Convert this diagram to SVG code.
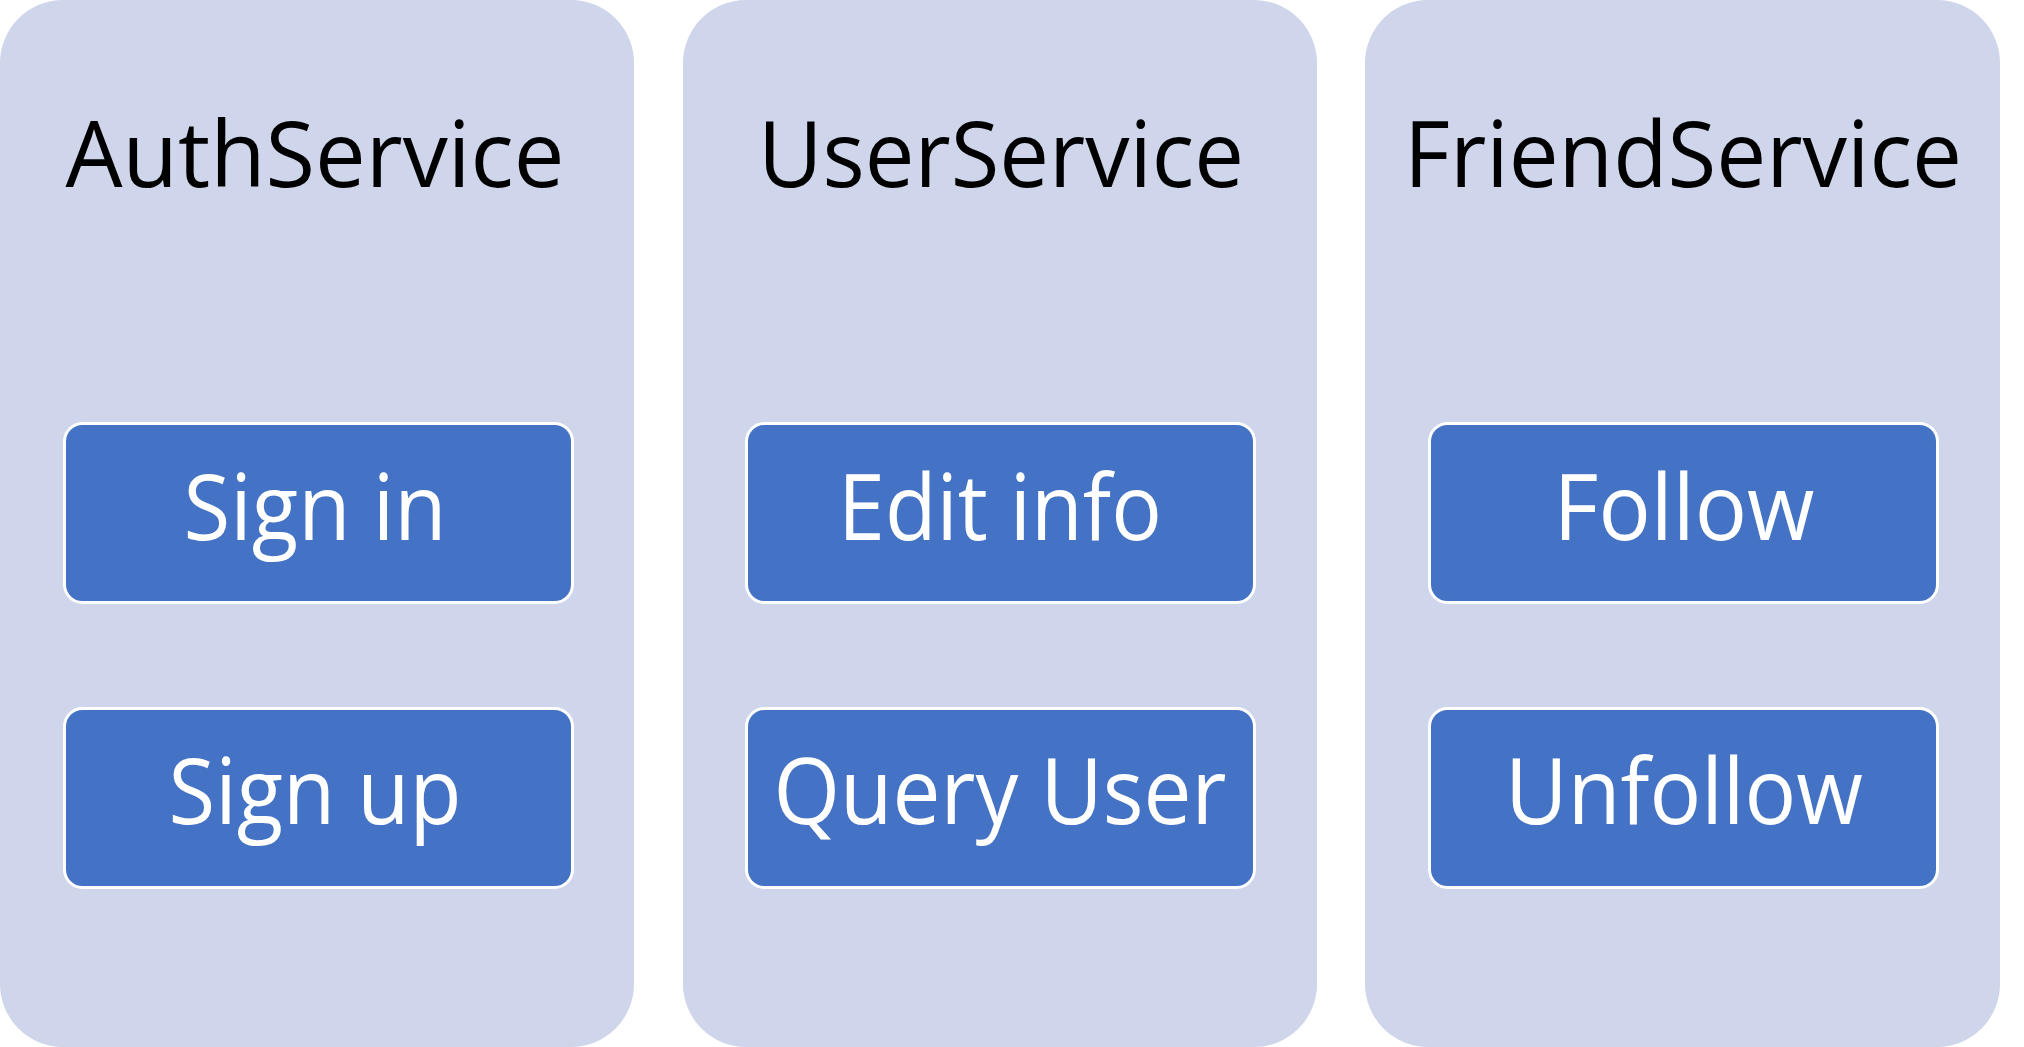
<svg xmlns="http://www.w3.org/2000/svg" width="2024" height="1047" viewBox="0 0 2024 1047">
  <style>
    .panel { fill: #CFD5EA; }
    .btn { fill: #4472C4; stroke: #FFFFFF; stroke-width: 3; }
    .title { font-family: "Open Sans", "Liberation Sans", sans-serif; font-size: 91px; fill: #000000; text-anchor: middle; }
    .label { font-family: "Open Sans", "Liberation Sans", sans-serif; font-size: 91px; fill: #FFFFFF; text-anchor: middle; }
  </style>
  <rect width="2024" height="1047" fill="#FFFFFF"/>

  <!-- Auth service column -->
  <g id="auth-service">
    <rect class="panel" x="0" y="0" width="634" height="1047" rx="63" ry="63"/>
    <text class="title" x="315" y="187" textLength="499" lengthAdjust="spacingAndGlyphs">AuthService</text>
  </g>
  <g id="sign-in">
    <rect class="btn" x="64.5" y="423.5" width="508" height="179" rx="18" ry="18"/>
    <text class="label" x="315" y="540" textLength="263" lengthAdjust="spacingAndGlyphs">Sign in</text>
  </g>
  <g id="sign-up">
    <rect class="btn" x="64.5" y="708.5" width="508" height="179" rx="18" ry="18"/>
    <text class="label" x="315" y="824" textLength="293" lengthAdjust="spacingAndGlyphs">Sign up</text>
  </g>

  <!-- User service column -->
  <g id="user-service">
    <rect class="panel" x="683" y="0" width="634" height="1047" rx="63" ry="63"/>
    <text class="title" x="1001" y="187" textLength="486" lengthAdjust="spacingAndGlyphs">UserService</text>
  </g>
  <g id="edit-info">
    <rect class="btn" x="746.5" y="423.5" width="508" height="179" rx="18" ry="18"/>
    <text class="label" x="1000" y="540" textLength="324" lengthAdjust="spacingAndGlyphs">Edit info</text>
  </g>
  <g id="query-user">
    <rect class="btn" x="746.5" y="708.5" width="508" height="179" rx="18" ry="18"/>
    <text class="label" x="1000" y="824" textLength="453" lengthAdjust="spacingAndGlyphs">Query User</text>
  </g>

  <!-- Friend service column -->
  <g id="friend-service">
    <rect class="panel" x="1365" y="0" width="635" height="1047" rx="63" ry="63"/>
    <text class="title" x="1683" y="187" textLength="558" lengthAdjust="spacingAndGlyphs">FriendService</text>
  </g>
  <g id="follow">
    <rect class="btn" x="1429.5" y="423.5" width="508" height="179" rx="18" ry="18"/>
    <text class="label" x="1684" y="540" textLength="261" lengthAdjust="spacingAndGlyphs">Follow</text>
  </g>
  <g id="unfollow">
    <rect class="btn" x="1429.5" y="708.5" width="508" height="179" rx="18" ry="18"/>
    <text class="label" x="1684" y="824" textLength="358" lengthAdjust="spacingAndGlyphs">Unfollow</text>
  </g>

  <!-- no connectors between the service columns -->
  <g id="connectors"/>
</svg>
